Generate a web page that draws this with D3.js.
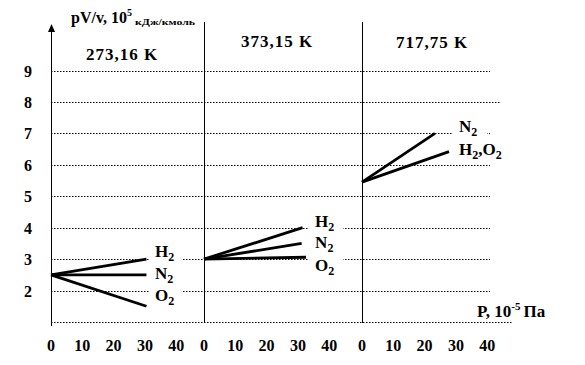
<!DOCTYPE html>
<html><head><meta charset="utf-8">
<script src="https://cdn.jsdelivr.net/npm/d3@7"></script>
<style>body{margin:0;background:#fff}svg{display:block}text{font-family:"Liberation Serif","Times New Roman",serif;font-weight:bold;fill:#000}</style>
</head><body><svg id="c" width="585" height="365"></svg>
<script>
const panelTitles = ["273,16 K", "373,15 K", "717,75 K"];
const yTicks = [2, 3, 4, 5, 6, 7, 8, 9];
const xTicks = [0, 10, 20, 30, 40];
const gridValues = [1, 2, 3, 4, 5, 6, 7, 8, 9];
// each series: panel index, label, [P, pV/v] endpoints
const seriesPanel = [0, 0, 0, 1, 1, 1, 2, 2];
const seriesName = ["H2", "N2", "O2", "H2", "N2", "O2", "N2", "H2,O2"];
const seriesP = [[0, 30.5], [0, 30.5], [0, 30.5], [0, 31.5], [0, 31.2], [0, 32.6], [0, 23.3], [0, 27.8]];
const seriesV = [[2.5, 3.0], [2.5, 2.5], [2.5, 1.5], [3.0, 4.0], [3.0, 3.5], [3.0, 3.06], [5.45, 7.0], [5.45, 6.42]];
const labelP = [33.2, 33.2, 33.2, 35.5, 35.5, 35.5, 31, 31];
const labelV = [3.07, 2.37, 1.67, 4.02, 3.35, 2.62, 7.04, 6.31];

const svg = d3.select("#c");
const y = d3.scaleLinear().domain([1, 9]).range([322, 70.5]);
const panelStart = [51, 204, 362];
const xs = panelStart.map(s => d3.scaleLinear().domain([0, 10]).range([s, s + 31.3]));

// grid lines
const gridEnd = v => v === 1 ? 512 : (v === 8 ? 500 : 490);
svg.append("g").selectAll("line").data(gridValues).join("line")
  .attr("x1", 51).attr("x2", d => gridEnd(d))
  .attr("y1", d => Math.round(y(d)) + 0.5).attr("y2", d => Math.round(y(d)) + 0.5)
  .attr("stroke", "#000").attr("stroke-width", 1).attr("stroke-dasharray", "1.5,1.5");

// label backgrounds (white boxes)
const lab = svg.append("g");
seriesName.forEach((n, i) => {
  const lx = xs[seriesPanel[i]](labelP[i]);
  const w = n.length > 2 ? 60 : 34;
  lab.append("rect").attr("x", lx - 6).attr("y", y(labelV[i]) - 15).attr("width", w).attr("height", 20).attr("fill", "#fff");
});

// axes / dividers
svg.append("line").attr("x1", 51.5).attr("x2", 51.5).attr("y1", 30).attr("y2", 326).attr("stroke", "#000");
svg.append("path").attr("d", "M51.5,24 L48,32 L55,32 Z").attr("fill", "#000");
[204.5, 362.5].forEach(x => {
  svg.append("line").attr("x1", x).attr("x2", x).attr("y1", 22).attr("y2", 323).attr("stroke", "#000");
});

// y tick labels
svg.append("g").selectAll("text").data(yTicks).join("text")
  .attr("x", 28).attr("y", d => y(d) + 6).attr("text-anchor", "middle")
  .attr("font-size", 16).text(d => d);

// x tick labels
panelStart.forEach((s, p) => {
  svg.append("g").selectAll("text").data(xTicks).join("text")
    .attr("x", d => xs[p](d)).attr("y", 351).attr("text-anchor", "middle")
    .attr("font-size", 16).text(d => d);
});

// panel titles
const titlePos = [[122, 60], [277, 47], [432, 48]];
panelTitles.forEach((t, i) => {
  svg.append("text").attr("x", titlePos[i][0]).attr("y", titlePos[i][1]).attr("text-anchor", "middle")
    .attr("font-size", 17).attr("letter-spacing", 1).text(t);
});

// data lines
const line = d3.line();
seriesName.forEach((n, i) => {
  const p = seriesPanel[i];
  const pts = seriesP[i].map((pv, k) => [xs[p](pv), y(seriesV[i][k])]);
  svg.append("path").attr("d", line(pts)).attr("stroke", "#000").attr("stroke-width", 2.8).attr("fill", "none");
});

// series labels with subscripts
seriesName.forEach((n, i) => {
  const lx = xs[seriesPanel[i]](labelP[i]);
  const t = svg.append("text").attr("x", lx).attr("y", y(labelV[i])).attr("font-size", 17);
  let sub = false;
  n.split(/(\d)/).forEach(part => {
    if (!part) return;
    if (/\d/.test(part)) { t.append("tspan").attr("font-size", 12).attr("dy", 4).text(part); sub = true; }
    else { t.append("tspan").attr("dy", sub ? -4 : 0).text(part); sub = false; }
  });
});

// y axis title
const yt = svg.append("text").attr("x", 71).attr("y", 23).attr("font-size", 16);
yt.append("tspan").text("pV/v, 10");
yt.append("tspan").attr("font-size", 10).attr("dy", -7).text("5");
yt.append("tspan").attr("font-size", 9).attr("dy", 9).attr("dx", 3).attr("textLength", 60).attr("lengthAdjust", "spacingAndGlyphs").text("кДж/кмоль");

// x axis title
const xt = svg.append("text").attr("x", 477).attr("y", 317).attr("font-size", 17);
xt.append("tspan").text("P, 10");
xt.append("tspan").attr("font-size", 11).attr("dy", -7).text("-5");
xt.append("tspan").attr("dy", 7).attr("dx", 3).text("Па");
</script></body></html>
